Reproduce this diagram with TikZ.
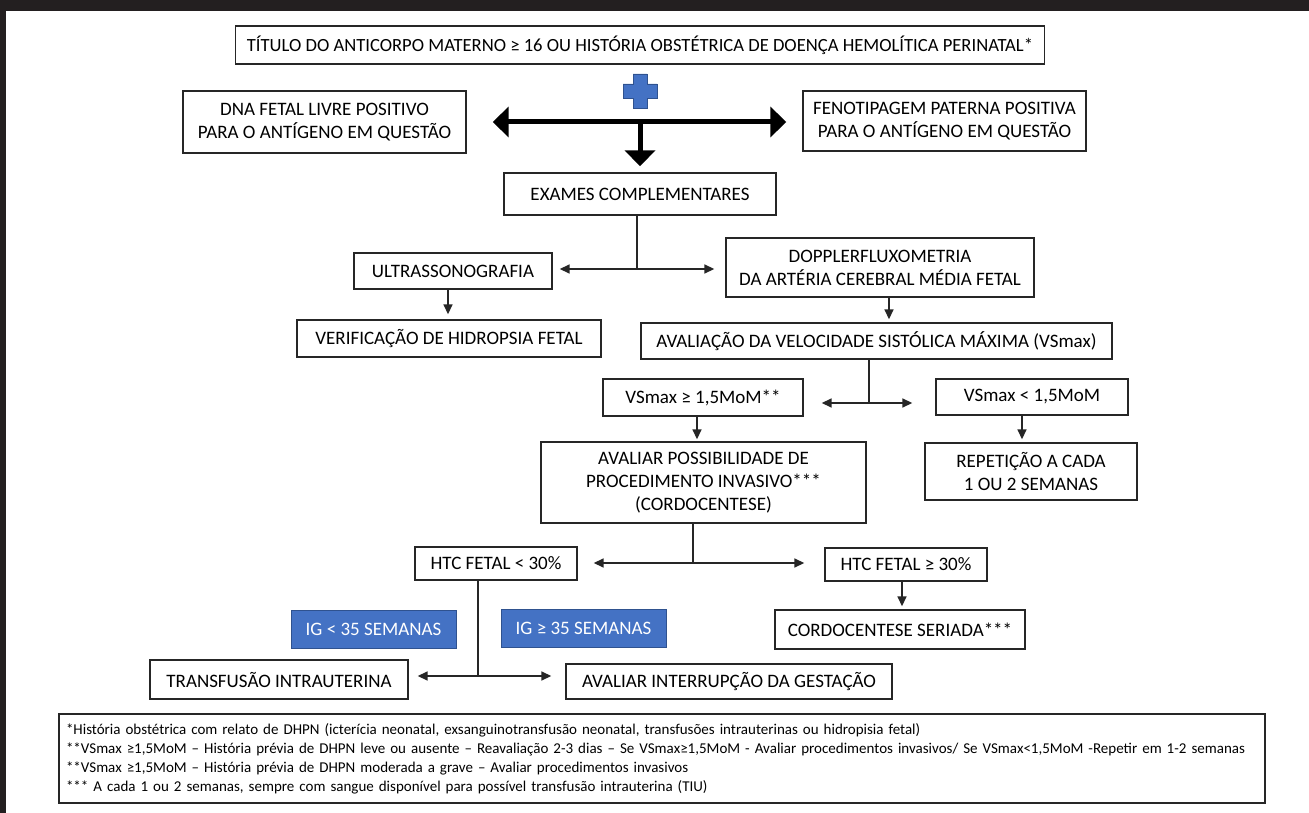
\documentclass[tikz,border=0pt]{standalone}
\usepackage{fontspec}
\setmainfont{Carlito}
\usetikzlibrary{arrows.meta,calc}
\definecolor{officeblue}{HTML}{4472C4}
\definecolor{blueedge}{HTML}{2F528F}
\definecolor{darkbar}{HTML}{231F20}
\begin{document}
\begin{tikzpicture}[x=1pt,y=-1pt,
  box/.style={draw=black!85, line width=1.4pt, inner sep=0pt, align=center,
    font=\fontsize{19}{23}\selectfont},
  bluebox/.style={box, fill=officeblue, draw=blueedge, line width=1pt, text=white},
  ln/.style={draw=black!85, line width=1.6pt},
  arr/.style={ln, -{Triangle[length=10pt,width=9pt]}},
  bigarr/.style={draw=black, line width=5pt},
  bighead/.tip={Triangle[length=16pt,width=30pt]}
]
\fill[white] (0,0) rectangle (1309,813);
\fill[darkbar] (0,0) rectangle (1309,11);
\fill[darkbar] (0,0) rectangle (6,813);
\useasboundingbox (0,0) rectangle (1309,813);

% boxes
\node[box, minimum width=809pt, minimum height=38pt, font=\fontsize{18.6}{23}\selectfont] (title) at (640,45)
  {TÍTULO DO ANTICORPO MATERNO ≥ 16 OU HISTÓRIA OBSTÉTRICA DE DOENÇA HEMOLÍTICA PERINATAL*};
\node[box, minimum width=283pt, minimum height=62pt] (dna) at (324.5,122)
  {DNA FETAL LIVRE POSITIVO\\PARA O ANTÍGENO EM QUESTÃO};
\node[box, minimum width=283pt, minimum height=60pt] (feno) at (944.5,121)
  {FENOTIPAGEM PATERNA POSITIVA\\PARA O ANTÍGENO EM QUESTÃO};
\node[box, minimum width=272pt, minimum height=42pt] (exames) at (640,194)
  {EXAMES COMPLEMENTARES};
\node[box, minimum width=198pt, minimum height=36pt] (ultra) at (453,271)
  {ULTRASSONOGRAFIA};
\node[box, minimum width=308pt, minimum height=59pt] (doppler) at (880,267.5)
  {DOPPLERFLUXOMETRIA\\DA ARTÉRIA CEREBRAL MÉDIA FETAL};
\node[box, minimum width=304pt, minimum height=37pt] (verif) at (449,338.5)
  {VERIFICAÇÃO DE HIDROPSIA FETAL};
\node[box, minimum width=471pt, minimum height=36pt] (aval) at (876.5,341)
  {AVALIAÇÃO DA VELOCIDADE SISTÓLICA MÁXIMA (VSmax)};
\node[box, minimum width=200pt, minimum height=37pt] (vs1) at (703,397.5)
  {VSmax ≥ 1,5MoM**};
\node[box, minimum width=192pt, minimum height=36pt] (vs2) at (1032,397)
  {VSmax < 1,5MoM};
\node[box, minimum width=325pt, minimum height=81pt] (avaliar) at (703.5,482.5)
  {AVALIAR POSSIBILIDADE DE\\PROCEDIMENTO INVASIVO***\\(CORDOCENTESE)};
\node[box, minimum width=212pt, minimum height=57pt] (repet) at (1031,471.5)
  {REPETIÇÃO A CADA\\1 OU 2 SEMANAS};
\node[box, minimum width=162pt, minimum height=33pt] (htc1) at (496,563.5)
  {HTC FETAL < 30\%};
\node[box, minimum width=162pt, minimum height=33pt] (htc2) at (906,564.5)
  {HTC FETAL ≥ 30\%};
\node[box, minimum width=250pt, minimum height=39pt] (cordo) at (900,629.5)
  {CORDOCENTESE SERIADA***};
\node[bluebox, minimum width=165pt, minimum height=38pt] (ig1) at (373.5,629)
  {IG < 35 SEMANAS};
\node[bluebox, minimum width=165pt, minimum height=38pt] (ig2) at (583.5,628)
  {IG ≥ 35 SEMANAS};
\node[box, minimum width=258pt, minimum height=39pt] (transf) at (279,679.5)
  {TRANSFUSÃO INTRAUTERINA};
\node[box, minimum width=326pt, minimum height=35pt] (interr) at (729,681.5)
  {AVALIAR INTERRUPÇÃO DA GESTAÇÃO};
\node[box, minimum width=1206pt, minimum height=89pt, text width=1192pt, align=left,
  font=\fontsize{15}{19}\selectfont] (notes) at (662,758.5)
  {*História obstétrica com relato de DHPN (icterícia neonatal, exsanguinotransfusão neonatal, transfusões intrauterinas ou hidropisia fetal)\\{}**VSmax ≥1,5MoM – História prévia de DHPN leve ou ausente – Reavaliação 2-3 dias – Se VSmax≥1,5MoM - Avaliar procedimentos invasivos/ Se VSmax<1,5MoM -Repetir em 1-2 semanas\\{}**VSmax ≥1,5MoM – História prévia de DHPN moderada a grave – Avaliar procedimentos invasivos\\{}*** A cada 1 ou 2 semanas, sempre com sangue disponível para possível transfusão intrauterina (TIU)};

% blue plus sign
\filldraw[fill=officeblue, draw=blueedge, line width=0.8pt, shift={(640,91)}]
  (-7,-17) -- (7,-17) -- (7,-7) -- (17,-7) -- (17,7) -- (7,7) -- (7,17)
  -- (-7,17) -- (-7,7) -- (-17,7) -- (-17,-7) -- (-7,-7) -- cycle;

% thick arrows
\coordinate (hc) at (640,122);
\draw[bigarr, bighead-bighead, shorten <=26pt, shorten >=16pt] (dna.east |- hc) -- (feno.west |- hc);
\draw[bigarr, -bighead, shorten >=6pt] (hc) -- (exames.north);

% connectors
\coordinate (j1) at (637,269);
\draw[ln] (exames.south -| j1) -- (j1);
\draw[arr, shorten >=7pt] (j1) -- (ultra.east |- j1);
\draw[arr, shorten >=11pt] (j1) -- (doppler.west |- j1);

\coordinate (c1) at (448,0);
\draw[arr, shorten >=5pt] (ultra.south -| c1) -- (verif.north -| c1);
\coordinate (c2) at (889,0);
\draw[arr, shorten >=3pt] (doppler.south -| c2) -- (aval.north -| c2);

\coordinate (j2) at (869,403);
\draw[ln] (aval.south -| j2) -- (j2);
\draw[arr, shorten >=18pt] (j2) -- (vs1.east |- j2);
\draw[arr, shorten >=23pt] (j2) -- (vs2.west |- j2);

\coordinate (c3) at (697,0);
\draw[arr, shorten >=2pt] (vs1.south -| c3) -- (avaliar.north -| c3);
\coordinate (c4) at (1022,0);
\draw[arr, shorten >=3pt] (vs2.south -| c4) -- (repet.north -| c4);

\coordinate (j3) at (693,563);
\draw[ln] (avaliar.south -| j3) -- (j3);
\draw[arr, shorten >=16pt] (j3) -- (htc1.east |- j3);
\draw[arr, shorten >=20pt] (j3) -- (htc2.west |- j3);

\coordinate (c5) at (902,0);
\draw[arr, shorten >=3pt] (htc2.south -| c5) -- (cordo.north -| c5);

\coordinate (j4) at (478,676);
\draw[ln] (htc1.south -| j4) -- (j4);
\draw[arr, shorten >=9pt] (j4) -- (transf.east |- j4);
\draw[arr, shorten >=14pt] (j4) -- (interr.west |- j4);
\end{tikzpicture}
\end{document}
